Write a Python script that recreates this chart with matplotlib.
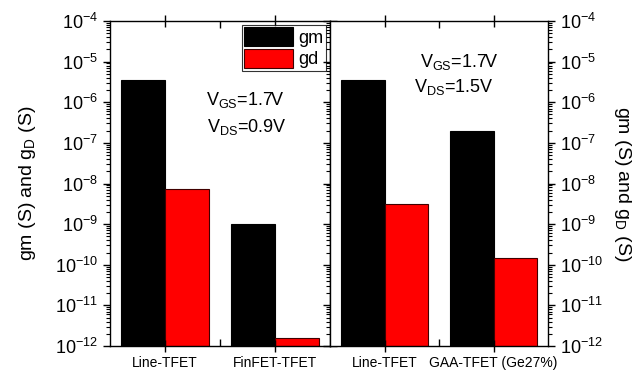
import matplotlib
matplotlib.use("Agg")
import matplotlib.pyplot as plt
import numpy as np
from matplotlib.ticker import NullFormatter, FixedLocator, LogFormatterSciNotation

plt.rcParams['font.family'] = ['Liberation Sans', 'DejaVu Sans']
plt.rcParams['mathtext.fontset'] = 'custom'
plt.rcParams['mathtext.rm'] = 'Liberation Sans'
plt.rcParams['mathtext.it'] = 'Liberation Sans:italic'
plt.rcParams['mathtext.default'] = 'regular'

# Data
left_categories = ["Line-TFET", "FinFET-TFET"]
left_gm = [3.5e-6, 1.0e-9]
left_gd = [7.2e-9, 1.6e-12]
right_categories = ["Line-TFET", "GAA-TFET (Ge27%)"]
right_gm = [3.5e-6, 2.0e-7]
right_gd = [3.2e-9, 1.5e-10]
series_names = ["gm", "gd"]
ylabel = r'gm (S) and g$_\mathregular{D}$ (S)'
left_note = [r'V$_\mathregular{GS}$=1.7V', r'V$_\mathregular{DS}$=0.9V']
right_note = [r'V$_\mathregular{GS}$=1.7V', r'V$_\mathregular{DS}$=1.5V']

fig = plt.figure(figsize=(6.41, 3.76), dpi=100)
W, H = 641, 376
bot = 1 - 346 / H
top = 1 - 21 / H
axL = fig.add_axes([110 / W, bot, 220 / W, top - bot])
axR = fig.add_axes([330 / W, bot, 218 / W, top - bot])

major_y = [10.0 ** e for e in range(-12, -3)]
minor_y = [m * 10.0 ** e for e in range(-12, -4) for m in range(2, 10)]

width = 0.4
for ax, cats, gm, gd in [(axL, left_categories, left_gm, left_gd),
                         (axR, right_categories, right_gm, right_gd)]:
    x = np.arange(1, len(cats) + 1)
    ax.bar(x - width / 2, gm, width, color='black', edgecolor='black',
           linewidth=0.8, label=series_names[0])
    ax.bar(x + width / 2, gd, width, color='red', edgecolor='#400000',
           linewidth=0.8, label=series_names[1])
    ax.set_yscale('log')
    ax.set_ylim(1e-12, 1e-4)
    ax.set_xlim(0.5, 2.5)
    ax.set_xticks(x)
    ax.set_xticklabels(cats, fontsize=10)
    ax.xaxis.set_minor_locator(FixedLocator([1.5]))
    ax.yaxis.set_major_locator(FixedLocator(major_y))
    ax.yaxis.set_major_formatter(LogFormatterSciNotation())
    ax.yaxis.set_minor_locator(FixedLocator(minor_y))
    ax.yaxis.set_minor_formatter(NullFormatter())
    for s in ax.spines.values():
        s.set_linewidth(1.0)

axL.tick_params(axis='y', which='major', direction='out', length=5, width=1.0,
                labelsize=13, left=True, right=True)
axL.tick_params(axis='y', which='minor', direction='out', length=3, width=0.8,
                left=True, right=True)

axR.yaxis.tick_right()
axR.tick_params(axis='y', which='major', direction='out', length=5, width=1.0,
                labelsize=13, left=True, right=True, labelleft=False, labelright=True)
axR.tick_params(axis='y', which='minor', direction='out', length=3, width=0.8,
                left=True, right=True)

for ax in (axL, axR):
    ax.tick_params(axis='x', which='major', direction='inout', length=8, width=1.0,
                   top=True, bottom=True)
    ax.tick_params(axis='x', which='minor', direction='in', length=5, width=1.0,
                   top=True, bottom=True)

axL.set_ylabel(ylabel, fontsize=14, labelpad=12)
axR.yaxis.set_label_position('right')
axR.set_ylabel(ylabel, fontsize=14, rotation=270, labelpad=22)

leg = axL.legend(loc='upper right', fontsize=13, frameon=True, fancybox=False,
                 edgecolor='black', handlelength=2.7, handleheight=1.25,
                 labelspacing=0.1, borderpad=0.15, handletextpad=0.3,
                 borderaxespad=0.2)
leg.get_frame().set_linewidth(0.8)

axL.text(0.614, 0.757, left_note[0], transform=axL.transAxes, ha='center',
         va='center', fontsize=13)
axL.text(0.62, 0.674, left_note[1], transform=axL.transAxes, ha='center',
         va='center', fontsize=13)
axR.text(0.592, 0.874, right_note[0], transform=axR.transAxes, ha='center',
         va='center', fontsize=13)
axR.text(0.57, 0.797, right_note[1], transform=axR.transAxes, ha='center',
         va='center', fontsize=13)

fig.savefig('out.png', dpi=100)
